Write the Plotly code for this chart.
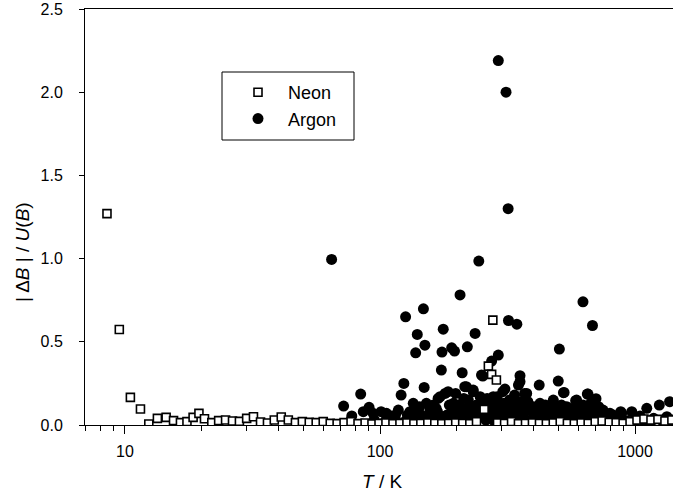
import math
import plotly.graph_objects as go

# Neon: temperature (K) and |dB|/U(B)
neon_T = [8.5, 9.5, 10.5, 11.5, 12.4, 13.4, 14.5, 15.5, 16.5, 17.5, 18.5, 19.5, 20.5,
          21.9, 23.3, 24.8, 26.4, 28.1, 30.0, 31.9, 34.0, 36.2, 38.5, 41.0, 43.7, 46.6,
          49.6, 52.8, 56.2, 59.9, 63.8, 67.9, 72.3, 77.0, 82.0, 87.4, 93.0, 99.1, 105.5,
          112.4, 119.7, 127.5, 135.8, 144.6, 154.0, 164.0, 174.7, 186.0, 198.1, 211, 225,
          239, 256, 266, 274, 277, 286, 289, 308, 328, 349, 372, 396, 422, 449, 478, 509,
          543, 578, 615, 655, 698, 743, 792, 843, 898, 956, 1018, 1084, 1155, 1230, 1310, 1395]
neon_v = [1.27, 0.574, 0.166, 0.096, 0.006, 0.04, 0.046, 0.026, 0.014, 0.02, 0.046, 0.07, 0.038,
          0.014, 0.026, 0.03, 0.024, 0.022, 0.04, 0.05, 0.018, 0.012, 0.03, 0.048, 0.03, 0.014,
          0.02, 0.016, 0.014, 0.02, 0.01, 0.008, 0.014, 0.02, 0.008, 0.012, 0.006, 0.01, 0.012,
          0.008, 0.01, 0.012, 0.008, 0.01, 0.012, 0.01, 0.008, 0.01, 0.012, 0.01, 0.008,
          0.02, 0.094, 0.354, 0.304, 0.63, 0.27, 0.012, 0.01, 0.02, 0.008, 0.01, 0.012, 0.01, 0.008, 0.012, 0.02,
          0.01, 0.008, 0.012, 0.01, 0.02, 0.024, 0.016, 0.014, 0.01, 0.02, 0.03, 0.036, 0.03, 0.034, 0.024, 0.03]

# Argon: temperature (K) and |dB|/U(B)
argon_T = [64.6, 291, 312, 318, 244, 206, 625, 681, 319, 344, 126, 148, 140, 150, 138, 177,
           175, 191, 196, 220, 236, 291, 253, 274, 505, 174, 210, 354, 354, 421, 500, 524,
           650, 703, 124, 121, 149, 84, 72, 90.6, 86, 77.5,
           93.9, 101, 106, 111, 131, 135, 152, 141, 157, 172, 180, 166, 129, 183,
           250, 349, 198, 215, 232, 303, 337, 369, 380, 194, 222, 239, 286, 318, 424, 478,
           206, 266, 278, 344, 405, 450, 291, 226,
           527, 585, 654, 635, 540, 749, 879, 971, 1112, 1245, 1366, 820, 686, 571, 1046,
           1183, 1333, 1400,
           218, 232, 185, 169, 247, 309, 376, 478, 590, 887, 798,
           95, 105, 115, 125, 135, 145, 160, 170, 190, 200, 215, 235, 260, 280, 300, 330,
           360, 390, 430, 470, 520, 560, 610, 660, 720, 780, 850, 930, 1000, 1080, 1150,
           1280, 1380,
           115, 145, 160, 195, 210, 230, 260, 270, 300, 330, 360, 395, 440, 470, 520, 560,
           610, 660, 720, 770,
           112, 118, 128, 133, 143, 155, 162, 168, 178, 187, 192, 203, 208, 213, 219, 224,
           228, 241, 246, 255, 258, 263, 268, 283, 288, 295, 298, 306, 312, 322, 326, 335,
           340, 352, 358, 365, 372, 385, 400, 412, 418, 435, 445, 460, 490, 500, 515, 535,
           550, 575, 600, 625, 645, 670, 700, 740]
argon_v = [0.995, 2.19, 2.0, 1.30, 0.985, 0.782, 0.74, 0.598, 0.628, 0.606, 0.65, 0.698, 0.544,
           0.48, 0.434, 0.576, 0.438, 0.464, 0.444, 0.47, 0.55, 0.42, 0.294, 0.384, 0.456, 0.33,
           0.314, 0.296, 0.26, 0.24, 0.264, 0.194, 0.186, 0.158, 0.25, 0.18, 0.226, 0.186, 0.114,
           0.106, 0.08, 0.054,
           0.07, 0.08, 0.07, 0.054, 0.08, 0.13, 0.13, 0.09, 0.09, 0.17, 0.19, 0.10, 0.04, 0.06,
           0.3, 0.24, 0.19, 0.23, 0.2, 0.2, 0.18, 0.19, 0.14, 0.13, 0.15, 0.12, 0.13, 0.11, 0.13,
           0.14, 0.07, 0.07, 0.17, 0.07, 0.07, 0.06, 0.05, 0.05,
           0.196, 0.146, 0.186, 0.11, 0.11, 0.09, 0.08, 0.08, 0.1, 0.12, 0.14, 0.06, 0.07, 0.07,
           0.054, 0.04, 0.05, 0.03,
           0.23, 0.21, 0.2, 0.16, 0.17, 0.216, 0.19, 0.15, 0.15, 0.07, 0.07,
           0.03, 0.025, 0.03, 0.02, 0.035, 0.03, 0.04, 0.025, 0.03, 0.04, 0.03, 0.035, 0.03,
           0.025, 0.035, 0.03, 0.04, 0.03, 0.035, 0.03, 0.04, 0.035, 0.03, 0.035, 0.03, 0.025,
           0.03, 0.025, 0.02, 0.025, 0.02, 0.025, 0.02,
           0.06, 0.06, 0.07, 0.09, 0.1, 0.09, 0.1, 0.12, 0.08, 0.09, 0.1, 0.09, 0.1, 0.08, 0.1,
           0.09, 0.12, 0.1, 0.11, 0.06,
           0.04, 0.09, 0.06, 0.05, 0.11, 0.05, 0.12, 0.08, 0.05, 0.12, 0.06, 0.12, 0.05, 0.16,
           0.08, 0.11, 0.06, 0.08, 0.05, 0.14, 0.07, 0.16, 0.05, 0.09, 0.17, 0.11, 0.06, 0.13,
           0.07, 0.15, 0.06, 0.11, 0.13, 0.08, 0.14, 0.06, 0.12, 0.09, 0.11, 0.05, 0.09, 0.06,
           0.12, 0.09, 0.1, 0.06, 0.12, 0.09, 0.05, 0.1, 0.07, 0.12, 0.06, 0.13, 0.08, 0.06]

x_major = [10, 100, 1000]
x_minor = [7, 8, 9, 20, 30, 40, 50, 60, 70, 80, 90, 200, 300, 400, 500, 600, 700, 800, 900]
y_ticks = [0.0, 0.5, 1.0, 1.5, 2.0, 2.5]

FONT = "Liberation Sans, Arial, sans-serif"

# plot area in pixels: x 85..673, y 9..425
PL, PW, PB, PH = 85, 588, 425, 416


def px_x(px):
    return (px - PL) / PW


def px_y(py):
    return (PB - py) / PH


fig = go.Figure()
fig.add_trace(go.Scatter(
    x=argon_T, y=argon_v, mode="markers", name="Argon", legendrank=2,
    marker=dict(symbol="circle", size=11, color="black", line=dict(width=0)),
))
fig.add_trace(go.Scatter(
    x=neon_T, y=neon_v, mode="markers", name="Neon", legendrank=1,
    marker=dict(symbol="square", size=8, color="white",
                line=dict(color="black", width=1.6)),
))

fig.update_layout(
    width=673, height=500,
    margin=dict(l=PL, r=0, t=9, b=75),
    paper_bgcolor="white", plot_bgcolor="white",
    font=dict(family=FONT, size=16, color="black"),
    showlegend=True,
    legend=dict(x=px_x(228), y=px_y(74), xanchor="left", yanchor="top",
                bgcolor="rgba(0,0,0,0)", borderwidth=0,
                font=dict(size=18), itemwidth=50),
    xaxis=dict(
        type="log", range=[math.log10(6.97), math.log10(1409)],
        showline=True, linecolor="black", linewidth=1, mirror=True,
        showgrid=False, zeroline=False,
        tickmode="array", tickvals=x_major, ticktext=[str(v) for v in x_major],
        ticks="outside", ticklen=8, tickcolor="black", ticklabelstandoff=4,
        minor=dict(tickmode="array", tickvals=x_minor, ticks="outside",
                   ticklen=5, tickcolor="black", showgrid=False),
    ),
    yaxis=dict(
        range=[0, 2.5], showline=True, linecolor="black", linewidth=1,
        showgrid=False, zeroline=False,
        tickmode="array", tickvals=y_ticks, ticktext=[f"{v:.1f}" for v in y_ticks],
        ticks="outside", ticklen=5, tickcolor="black", ticklabelstandoff=13,
        ticklabeloverflow="allow", tickfont=dict(size=16),
    ),
    shapes=[dict(type="rect", xref="paper", yref="paper",
                 x0=px_x(222), x1=px_x(354), y0=px_y(140), y1=px_y(72),
                 line=dict(color="black", width=1), fillcolor="rgba(0,0,0,0)")],
    annotations=[
        dict(text="<i>T</i> / K", xref="paper", yref="paper",
             x=px_x(382), y=px_y(481), xanchor="center", yanchor="middle",
             showarrow=False, font=dict(size=19)),
        dict(text="| Δ<i>B</i> | / <i>U</i>(<i>B</i>)", xref="paper", yref="paper",
             x=px_x(22), y=px_y(252), xanchor="center", yanchor="middle",
             textangle=-90, showarrow=False, font=dict(size=19)),
    ],
)

fig.write_html("out.html")
